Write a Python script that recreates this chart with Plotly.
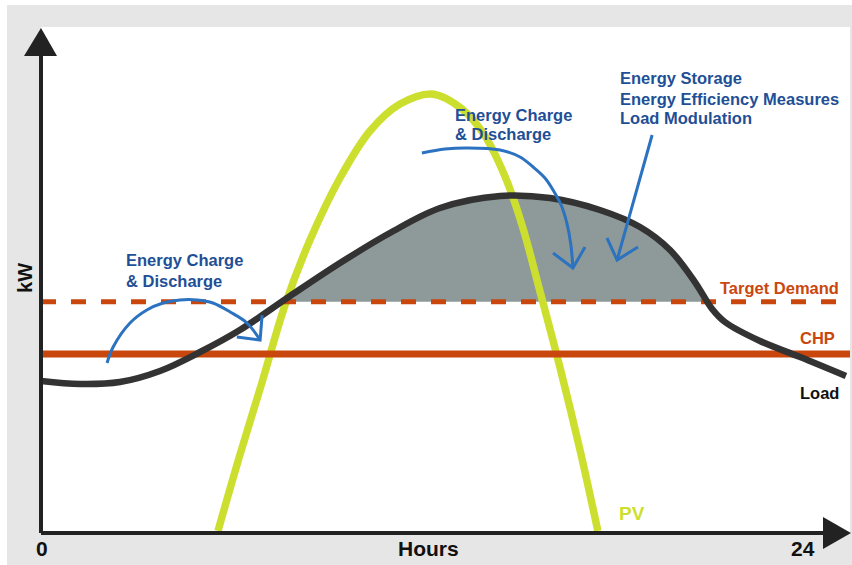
import numpy as np
import plotly.graph_objects as go

# ---------------- data (hours, kW-relative units) ----------------
load_h = [0.00, 1.16, 2.34, 3.53, 4.72, 5.90, 7.39, 8.87, 10.35, 11.84, 13.62, 15.10,
          16.58, 17.77, 18.66, 19.40, 19.91, 20.29, 21.33, 22.52, 23.88]
load_kw = [30.04, 29.45, 29.84, 32.02, 35.77, 40.12, 46.84, 53.36, 59.29, 64.23, 66.60,
           66.20, 63.83, 60.47, 55.93, 49.60, 44.27, 41.70, 37.94, 34.78, 31.03]

pv_h = [5.25, 5.90, 6.56, 7.24, 7.98, 8.87, 9.76, 10.65, 11.60, 12.49, 13.17, 13.76,
        14.27, 14.80, 15.40, 15.99, 16.52]
pv_kw = [0.40, 15.41, 29.84, 45.06, 57.90, 70.16, 79.45, 84.78, 86.76, 83.79, 78.46,
         70.55, 60.87, 47.83, 32.61, 16.40, 0.40]

target_kw = 45.7
chp_kw = 35.4
hours_range = [0, 24]

# annotation arrows (hours, kW)
arrow1_h = [1.96, 2.14, 2.64, 3.14, 3.62, 4.12, 4.63, 5.10, 5.61, 6.11, 6.50]
arrow1_kw = [33.60, 36.76, 41.50, 44.07, 45.45, 46.05, 46.05, 45.45, 43.68, 41.50, 38.14]
head1_h = [6.56, 6.50, 5.81]
head1_kw = [43.08, 38.14, 38.73]

arrow2_h = [11.30, 11.99, 12.64, 13.62, 14.21, 14.60, 14.95, 15.19, 15.43, 15.60, 15.72, 15.78]
arrow2_kw = [75.10, 75.89, 76.09, 75.69, 74.31, 72.33, 70.16, 67.79, 64.82, 61.26, 56.92, 52.37]
head2_h = [15.19, 15.78, 16.14]
head2_kw = [55.34, 52.37, 56.52]

arrow3_h = [18.13, 17.09]
arrow3_kw = [78.66, 53.95]
head3_h = [16.79, 17.09, 17.71]
head3_kw = [58.30, 53.95, 56.52]

# ---------------- styles ----------------
FONT = "Liberation Sans, Arial, sans-serif"
ORANGE = "#c9470d"
PV_COL = "#cddf2e"
LOAD_COL = "#333333"
SHADE = "#8e9a99"
ARROW_COL = "#2b72c0"
TEXT_BLUE = "#1f4f96"
AX_COL = "#222222"

# shaded area: where load exceeds target
lx = np.array(load_h)
ly = np.array(load_kw)
above = np.where(ly > target_kw)[0]
i0, i1 = above[0], above[-1]
xl = lx[i0 - 1] + (target_kw - ly[i0 - 1]) * (lx[i0] - lx[i0 - 1]) / (ly[i0] - ly[i0 - 1])
xr = lx[i1] + (target_kw - ly[i1]) * (lx[i1 + 1] - lx[i1]) / (ly[i1 + 1] - ly[i1])
fill_x = [xl] + list(lx[i0:i1 + 1]) + [xr]
fill_y = [target_kw] + list(ly[i0:i1 + 1]) + [target_kw]

fig = go.Figure()
fig.add_trace(go.Scatter(x=fill_x, y=fill_y, mode="lines", fill="toself", fillcolor=SHADE,
                         line=dict(width=0, color=SHADE, shape="spline", smoothing=1.0),
                         hoverinfo="skip"))
fig.add_trace(go.Scatter(x=pv_h, y=pv_kw, mode="lines",
                         line=dict(color=PV_COL, width=7.5, shape="spline", smoothing=1.0)))
fig.add_trace(go.Scatter(x=hours_range, y=[chp_kw, chp_kw], mode="lines",
                         line=dict(color=ORANGE, width=7)))
fig.add_trace(go.Scatter(x=hours_range, y=[target_kw, target_kw], mode="lines",
                         line=dict(color=ORANGE, width=5, dash="15px,15px")))
fig.add_trace(go.Scatter(x=load_h, y=load_kw, mode="lines",
                         line=dict(color=LOAD_COL, width=6.5, shape="spline", smoothing=1.0)))
for ax_, ay_, sp in [(arrow1_h, arrow1_kw, True), (head1_h, head1_kw, False),
                     (arrow2_h, arrow2_kw, True), (head2_h, head2_kw, False),
                     (arrow3_h, arrow3_kw, False), (head3_h, head3_kw, False)]:
    fig.add_trace(go.Scatter(x=ax_, y=ay_, mode="lines",
                             line=dict(color=ARROW_COL, width=3,
                                       shape="spline" if sp else "linear")))

ann = []
def txt(x, y, s, color, size, xanchor="left", xref="x", yref="y", angle=0):
    ann.append(dict(x=x, y=y, xref=xref, yref=yref, text=s, showarrow=False,
                    xanchor=xanchor, yanchor="middle", textangle=angle,
                    font=dict(family=FONT, size=size, color=color, weight="bold")))

txt(2.45, 53.9, "Energy Charge", TEXT_BLUE, 16.5)
txt(2.45, 49.9, "&amp; Discharge", TEXT_BLUE, 16.5)
txt(12.22, 82.6, "Energy Charge", TEXT_BLUE, 16.5)
txt(12.22, 78.8, "&amp; Discharge", TEXT_BLUE, 16.5)
txt(17.12, 89.9, "Energy Storage", TEXT_BLUE, 16.5)
txt(17.12, 85.8, "Energy Efficiency Measures", TEXT_BLUE, 16.5)
txt(17.12, 82.0, "Load Modulation", TEXT_BLUE, 16.5)
txt(23.72, 48.5, "Target Demand", ORANGE, 16.5, xanchor="right")
txt(23.60, 38.6, "CHP", ORANGE, 16.5, xanchor="right")
txt(23.72, 27.7, "Load", "#111111", 16.5, xanchor="right")
txt(17.10, 3.8, "PV", PV_COL, 19)
txt(0.0012, -0.031, "0", "#111111", 21, xanchor="center", xref="paper", yref="paper")
txt(0.4796, -0.031, "Hours", "#111111", 21, xanchor="center", xref="paper", yref="paper")
txt(0.9419, -0.031, "24", "#111111", 21, xanchor="center", xref="paper", yref="paper")
ann.append(dict(x=-0.0198, y=0.504, xref="paper", yref="paper", text="kW", showarrow=False,
                textangle=-90, xanchor="center", yanchor="middle",
                font=dict(family=FONT, size=20, color="#111111", weight="bold")))

shapes = [
    # white page edge strips
    dict(type="rect", xref="paper", yref="paper", x0=-0.06, x1=-0.042, y0=-0.07, y1=1.06,
         fillcolor="white", line=dict(width=0), layer="below"),
    dict(type="rect", xref="paper", yref="paper", x0=-0.06, x1=1.01, y0=1.0435, y1=1.06,
         fillcolor="white", line=dict(width=0), layer="below"),
    # axes
    dict(type="line", xref="paper", yref="paper", x0=0, x1=0.97, y0=0, y1=0,
         line=dict(color=AX_COL, width=4)),
    dict(type="line", xref="paper", yref="paper", x0=0, x1=0, y0=0, y1=0.95,
         line=dict(color=AX_COL, width=4)),
    dict(type="path", xref="paper", yref="paper",
         path="M -0.021 0.9427 L 0.0198 0.9427 L 0 0.998 Z",
         fillcolor=AX_COL, line=dict(width=0)),
    dict(type="path", xref="paper", yref="paper",
         path="M 0.9666 0.0316 L 0.9666 -0.0316 L 1.0012 0 Z",
         fillcolor=AX_COL, line=dict(width=0)),
]

fig.update_layout(
    width=852, height=565,
    margin=dict(l=41, r=2, t=27, b=32),
    paper_bgcolor="#e6e6e6", plot_bgcolor="white",
    showlegend=False,
    xaxis=dict(range=hours_range, showgrid=False, zeroline=False, showticklabels=False,
               showline=False, fixedrange=True),
    yaxis=dict(range=[0, 100], showgrid=False, zeroline=False, showticklabels=False,
               showline=False, fixedrange=True),
    annotations=ann, shapes=shapes,
    hovermode=False,
)
fig.write_html("out.html", config={"displayModeBar": False},
               post_script="document.body.style.margin='0px';document.body.style.overflow='hidden';")
